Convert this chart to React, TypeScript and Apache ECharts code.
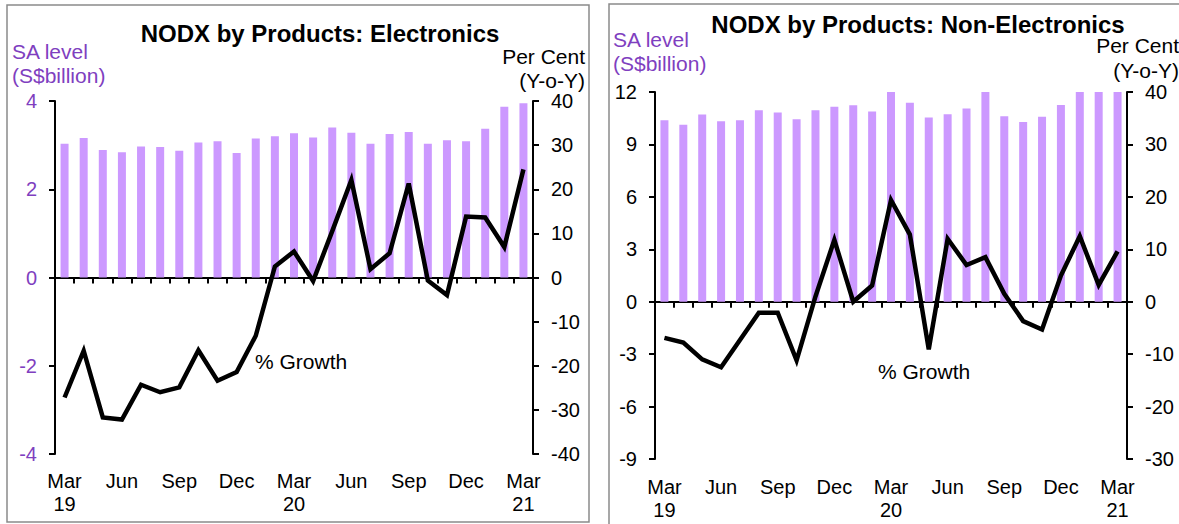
import React, { useEffect, useRef } from "react";
import * as echarts from "echarts";

const months: string[] = [
  "Mar 19", "Apr 19", "May 19", "Jun 19", "Jul 19", "Aug 19", "Sep 19", "Oct 19", "Nov 19", "Dec 19",
  "Jan 20", "Feb 20", "Mar 20", "Apr 20", "May 20", "Jun 20", "Jul 20", "Aug 20", "Sep 20", "Oct 20",
  "Nov 20", "Dec 20", "Jan 21", "Feb 21", "Mar 21",
];

const elecLevel: number[] = [
  3.03, 3.16, 2.89, 2.84, 2.97, 2.96, 2.87, 3.06, 3.09, 2.82,
  3.15, 3.2, 3.27, 3.17, 3.4, 3.28, 3.03, 3.25, 3.3, 3.03,
  3.11, 3.09, 3.37, 3.87, 3.95,
];
const elecGrowth: number[] = [
  -27.2, -16.6, -31.7, -32.2, -24.3, -26.0, -24.9, -16.5, -23.4, -21.4,
  -13.2, 2.5, 5.9, -0.8, 10.5, 22.1, 1.9, 5.5, 21.3, -0.7,
  -4.0, 13.8, 13.6, 6.9, 24.5,
];

const nonElecLevel: number[] = [
  10.39, 10.12, 10.71, 10.33, 10.39, 10.96, 10.82, 10.44, 10.96, 11.16,
  11.24, 10.88, 12.6, 11.39, 10.54, 10.73, 11.05, 12.3, 10.61, 10.29,
  10.59, 11.26, 12.5, 13.1, 13.4,
];
const nonElecGrowth: number[] = [
  -6.9, -7.8, -11.0, -12.5, -7.3, -2.1, -2.1, -11.2, 1.0, 11.8,
  0.0, 3.1, 19.4, 12.8, -9.1, 12.0, 7.0, 8.5, 1.5, -3.7,
  -5.3, 5.0, 12.5, 3.2, 9.6,
];

const titles: string[] = ["NODX by Products: Electronics", "NODX by Products: Non-Electronics"];
const leftAxisName: string[] = ["SA level", "(S$billion)"];
const rightAxisName: string[] = ["Per Cent", "(Y-o-Y)"];
const lineLabel = "% Growth";

const FONT = '"Liberation Sans", Arial, Helvetica, sans-serif';
const PURPLE = "#7F3FBF";
const BAR = "#CC99FF";

export default function App() {
  const ref = useRef<HTMLDivElement | null>(null);

  useEffect(() => {
    if (!ref.current) return;
    const chart = echarts.init(ref.current, undefined, { renderer: "svg" });

    const labelAxis = (gridIndex: number, margin: number) => ({
      type: "category",
      gridIndex,
      data: months,
      position: "bottom",
      boundaryGap: true,
      axisLine: { show: false, onZero: false },
      axisTick: { show: false },
      splitLine: { show: false },
      axisLabel: {
        interval: 2,
        margin,
        color: "#000",
        fontSize: 20,
        fontFamily: FONT,
        lineHeight: 23,
        formatter: (v: string) => {
          const [m, y] = v.split(" ");
          return m === "Mar" ? `${m}\n${y}` : m;
        },
      },
    });
    const zeroAxis = (gridIndex: number, yIdx: number) => ({
      type: "category",
      gridIndex,
      data: months,
      position: "top",
      boundaryGap: true,
      axisLine: { show: true, onZero: true, onZeroAxisIndex: yIdx, lineStyle: { color: "#000", width: 2 } },
      axisTick: { show: true, inside: true, interval: 0, length: 6, lineStyle: { color: "#000", width: 2 } },
      axisLabel: { show: false },
      splitLine: { show: false },
    });
    const valAxis = (
      gridIndex: number,
      position: "left" | "right",
      min: number,
      max: number,
      interval: number,
      color: string
    ) => ({
      type: "value",
      gridIndex,
      position,
      min,
      max,
      interval,
      axisLine: { show: true, onZero: false, lineStyle: { color: "#000", width: 2 } },
      axisTick: { show: true, length: 6, lineStyle: { color: "#000", width: 2 } },
      splitLine: { show: false },
      axisLabel: { color, fontSize: 20, fontFamily: FONT, margin: 18 },
    });

    const text = (
      t: string,
      x: number,
      y: number,
      align: string,
      color: string,
      size: number,
      bold = false
    ) => ({
      type: "text",
      x,
      y,
      z: 10,
      style: {
        text: t,
        fill: color,
        font: `${bold ? "bold " : ""}${size}px ${FONT}`,
        align,
        verticalAlign: "middle",
      },
    });

    chart.setOption({
      animation: false,
      backgroundColor: "#fff",
      grid: [
        { left: 55, top: 101, width: 478, height: 353, outerBoundsMode: "none", containLabel: false },
        { left: 655, top: 92, width: 472, height: 367, outerBoundsMode: "none", containLabel: false },
      ],
      xAxis: [labelAxis(0, 15), zeroAxis(0, 0), labelAxis(1, 16), zeroAxis(1, 2)],
      yAxis: [
        valAxis(0, "left", -4, 4, 2, PURPLE),
        valAxis(0, "right", -40, 40, 10, "#000"),
        valAxis(1, "left", -9, 12, 3, "#000"),
        valAxis(1, "right", -30, 40, 10, "#000"),
      ],
      series: [
        {
          type: "bar",
          xAxisIndex: 0,
          yAxisIndex: 0,
          data: elecLevel,
          barWidth: 8,
          itemStyle: { color: BAR },
          z: 1,
        },
        {
          type: "line",
          xAxisIndex: 0,
          yAxisIndex: 1,
          data: elecGrowth,
          symbol: "none",
          lineStyle: { color: "#000", width: 4.5, join: "miter" },
          z: 5,
        },
        {
          type: "bar",
          xAxisIndex: 2,
          yAxisIndex: 2,
          data: nonElecLevel,
          barWidth: 8,
          itemStyle: { color: BAR },
          clip: true,
          z: 1,
        },
        {
          type: "line",
          xAxisIndex: 2,
          yAxisIndex: 3,
          data: nonElecGrowth,
          symbol: "none",
          lineStyle: { color: "#000", width: 4.5, join: "miter" },
          z: 5,
        },
      ],
      graphic: [
        {
          type: "rect",
          shape: { x: 7, y: 5, width: 582, height: 517 },
          style: { fill: "none", stroke: "#8a8a8a", lineWidth: 1.5 },
          z: 0,
        },
        {
          type: "rect",
          shape: { x: 609, y: 4, width: 700, height: 600 },
          style: { fill: "none", stroke: "#8a8a8a", lineWidth: 1.5 },
          z: 0,
        },
        text(titles[0], 320, 33, "center", "#000", 24, true),
        text(leftAxisName[0], 12, 51, "left", PURPLE, 21),
        text(leftAxisName[1], 12, 75, "left", PURPLE, 21),
        text(rightAxisName[0], 585, 56, "right", "#000", 21),
        text(rightAxisName[1], 585, 80, "right", "#000", 21),
        text(lineLabel, 255, 361, "left", "#000", 21),
        text(titles[1], 918, 24, "center", "#000", 24, true),
        text(leftAxisName[0], 613, 39, "left", PURPLE, 21),
        text(leftAxisName[1], 613, 63, "left", PURPLE, 21),
        text(rightAxisName[0], 1179, 45, "right", "#000", 21),
        text(rightAxisName[1], 1179, 70, "right", "#000", 21),
        text(lineLabel, 878, 371, "left", "#000", 21),
      ],
    });

    return () => chart.dispose();
  }, []);

  return (
    <div
      ref={ref}
      style={{ position: "absolute", left: 0, top: 0, width: 1179, height: 524, background: "#fff" }}
    />
  );
}
